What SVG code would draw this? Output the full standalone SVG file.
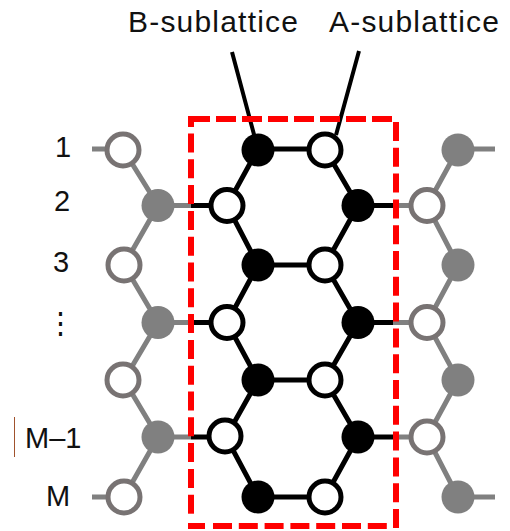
<svg xmlns="http://www.w3.org/2000/svg" width="510" height="531" viewBox="0 0 510 531">
<style>
text{font-family:"Liberation Sans",Arial,sans-serif;font-size:29px;fill:#111}
.head{font-size:30px;letter-spacing:1.2px}
.k{stroke:#000;stroke-width:5;fill:none}
.g{stroke:#808080;stroke-width:5;fill:none}
.ow{fill:#fff;stroke:#000;stroke-width:5}
.og{fill:#fff;stroke:#787373;stroke-width:5}
.fk{fill:#000}
.fg{fill:#808080}
.red{fill:none;stroke:#f00;stroke-width:6}
</style>
<rect width="510" height="531" fill="#fff"/>
<g id="connectors">
<path class="g" d="M92 149H123L158 205.500L124 265L158 322.500L124 380L158 437L124 497H92M158 205.500H191M158 322.500H191M158 437H191"/>
<path class="g" d="M495 149H458L427 205.500L458 265L427 322.500L458 380L427 437L458 497H495M393 205.500H427M393 322.500H427M393 437H427"/>
<path class="k" d="M258 149H325L358 205.500L325 265L358 322.500L325 380L358 437L325 497H258L226 437L258 380L227 322.500L258 265L227 205.500L258 149M258 265H325M258 380H325M191 205.500H227M191 322.500H227M191 437H226M358 205.500H393M358 322.500H393M358 437H393"/>
<path d="M232 52L256 142M359 51L336 135" fill="none" stroke="#000" stroke-width="4"/>
</g>
<g id="frame">
<path class="red" d="M191 127V119H210"/>
<path class="red" d="M216 119H392" stroke-dasharray="20 6"/>
<path class="red" d="M191 133.500V515" stroke-dasharray="19 6.800"/>
<path class="red" d="M396 122V528" stroke-dasharray="19 6.800"/>
<path class="red" d="M188 526H205"/>
<path class="red" d="M213 526H393" stroke-dasharray="19 6.800"/>
</g>
<g id="lattice-left">
<circle class="og" cx="123" cy="150" r="16"/><circle class="fg" cx="158" cy="205.500" r="16.500"/><circle class="og" cx="124" cy="265" r="16"/><circle class="fg" cx="158" cy="322.500" r="16.500"/><circle class="og" cx="123" cy="380" r="16"/><circle class="fg" cx="158" cy="437" r="16.500"/><circle class="og" cx="124" cy="497" r="16"/>
</g>
<g id="lattice-center">
<circle class="fk" cx="258" cy="150" r="16.500"/><circle class="ow" cx="325" cy="150" r="16"/><circle class="ow" cx="227" cy="205.500" r="16"/><circle class="fk" cx="358" cy="205.500" r="16.500"/><circle class="fk" cx="258" cy="265" r="16.500"/><circle class="ow" cx="325" cy="265" r="16"/><circle class="ow" cx="227" cy="322.500" r="16"/><circle class="fk" cx="358" cy="322.500" r="16.500"/><circle class="fk" cx="258" cy="380" r="16.500"/><circle class="ow" cx="325" cy="380" r="16"/><circle class="ow" cx="225" cy="436" r="16"/><circle class="fk" cx="358" cy="437" r="16.500"/><circle class="fk" cx="258" cy="497" r="16.500"/><circle class="ow" cx="325" cy="497" r="16"/>
</g>
<g id="lattice-right">
<circle class="fg" cx="458" cy="150" r="16.500"/><circle class="og" cx="427" cy="205.500" r="16"/><circle class="fg" cx="458" cy="265" r="16.500"/><circle class="og" cx="427" cy="322.500" r="16"/><circle class="fg" cx="458" cy="380" r="16.500"/><circle class="og" cx="427" cy="437" r="16"/><circle class="fg" cx="458" cy="497" r="16.500"/>
</g>
<g id="labels">
<text class="head" x="128" y="32">B-sublattice</text>
<text class="head" x="329" y="32">A-sublattice</text>
<text x="55" y="157">1</text>
<text x="54" y="211">2</text>
<text x="53" y="272">3</text>
<text x="46" y="333">⋮</text>
<text x="25" y="448">M–1</text>
<text x="46" y="506">M</text>
</g>
<path d="M14.500 417V457" stroke="#a0522d" stroke-width="1"/>
</svg>
